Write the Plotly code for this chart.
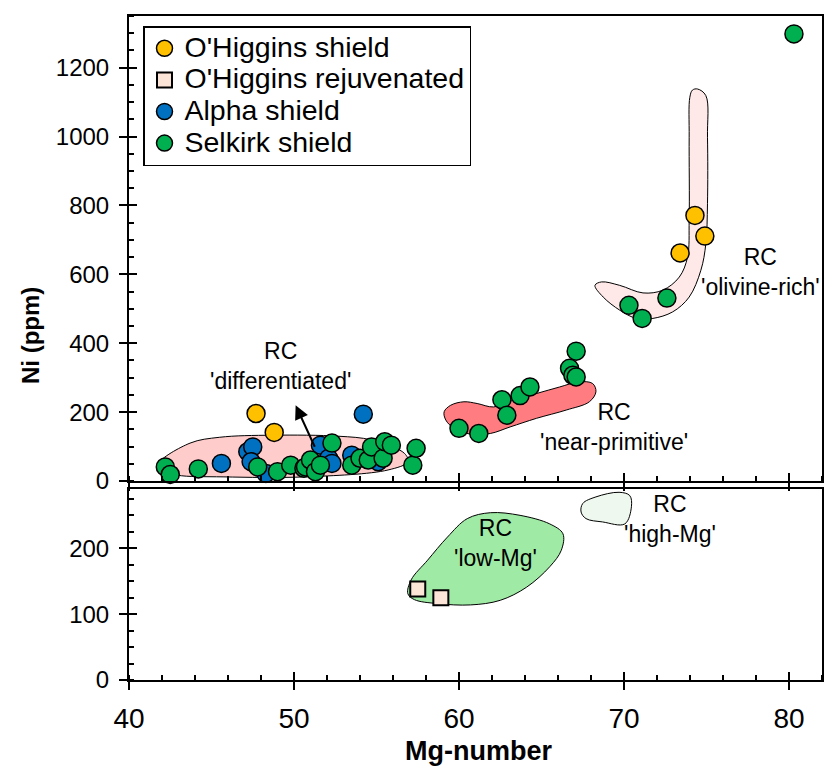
import plotly.graph_objects as go

# ---------------- data ----------------
ohs_x = [47.7, 48.8, 73.4, 74.3, 74.9]
ohs_y = [196, 141, 662, 771, 711]

ohr_x = [57.5, 58.9]
ohr_y = [138, 125]

alpha_x = [45.6, 47.2, 47.5, 47.4, 48.3, 51.6, 52.1, 52.3, 53.5, 55.1, 54.2]
alpha_y = [51, 85, 99, 56, 22, 104, 66, 51, 75, 56, 194]

selkirk_x = [42.2, 42.5, 44.2, 47.8, 49.0, 49.8, 50.6, 50.7, 51.0, 51.3, 51.6, 52.3,
             53.5, 54.0, 54.5, 54.7, 55.4, 55.5, 55.9, 57.2, 57.4,
             60.0, 61.2, 62.6, 62.9, 63.7, 64.3, 66.7, 66.9, 67.1, 67.1,
             70.3, 71.1, 72.6, 80.3]
selkirk_y = [41, 19, 35, 41, 27, 46, 37, 41, 61, 27, 46, 110,
             46, 66, 61, 99, 66, 114, 104, 46, 95,
             153, 138, 236, 191, 248, 273, 327, 307, 302, 377,
             510, 472, 531, 1298]

series_names = ["O'Higgins shield", "O'Higgins rejuvenated", "Alpha shield", "Selkirk shield"]

# field outlines (Mg-number, Ni ppm)
diff_x = [41.8, 43.7, 45.5, 48.7, 52.7, 54.7, 56.7, 56.9, 55.7, 50.7, 45.7, 42.9, 41.9]
diff_y = [51, 110, 127, 133, 130, 119, 80, 56, 32, 12, 12, 17, 32]

nearp_x = [59.1, 59.5, 60.3, 61.1, 62.1, 63.3, 64.7, 66.1, 67.3, 68.1, 68.3, 67.9,
           66.5, 64.7, 63.1, 61.9, 60.7, 59.7, 59.2]
nearp_y = [201, 220, 230, 225, 215, 235, 254, 273, 288, 283, 259, 230,
           206, 182, 157, 138, 136, 153, 177]

oliv_x = [74.46, 74.96, 75.06, 75.06, 74.96, 74.66, 73.95, 72.95, 71.75, 70.75, 69.74,
          68.74, 68.24, 68.64, 69.74, 71.15, 72.35, 73.35, 73.85, 73.95, 73.95, 73.99, 74.15]
oliv_y = [1138, 1119, 998, 805, 689, 612, 534, 491, 472, 472, 496,
          534, 568, 578, 568, 546, 554, 592, 650, 757, 998, 1114, 1135]

lowmg_x = [56.9, 57.1, 58.1, 59.3, 60.5, 61.9, 63.7, 65.5, 66.3, 66.2, 65.5, 64.1,
           62.5, 60.7, 58.7, 57.3]
lowmg_y = [131, 152, 182, 217, 245, 254, 250, 237, 222, 197, 172, 141,
           121, 114, 116, 122]

highmg_x = [67.5, 68.3, 69.7, 70.35, 70.45, 70.05, 68.7, 67.7, 67.4]
highmg_y = [268, 278, 285, 280, 263, 237, 240, 245, 255]

x_range = [40, 82]
top_range = [0, 1350]
bot_range = [0, 290]

FONT = "Liberation Sans, Arial, sans-serif"

fig = go.Figure()

def region(xs, ys, color, xa, ya):
    fig.add_trace(go.Scatter(
        x=xs + xs[:1], y=ys + ys[:1], mode="lines", fill="toself",
        fillcolor=color, line=dict(color="black", width=1, shape="spline", smoothing=1),
        xaxis=xa, yaxis=ya, showlegend=False, hoverinfo="skip"))

region(diff_x, diff_y, "#FFCCCC", "x2", "y2")
region(nearp_x, nearp_y, "#FF7C80", "x2", "y2")
region(oliv_x, oliv_y, "#FFE8E8", "x2", "y2")
region(lowmg_x, lowmg_y, "#9FEBA5", "x", "y")
region(highmg_x, highmg_y, "#EEF8EE", "x", "y")

def lname(s):
    return '<span style="font-size:28.5px">' + s + '</span>'

mline = dict(color="black", width=1.5)
fig.add_trace(go.Scatter(x=ohs_x, y=ohs_y, mode="markers", name=lname(series_names[0]),
                         marker=dict(symbol="circle", size=18, color="#FFC000", line=mline),
                         xaxis="x2", yaxis="y2", cliponaxis=False))
fig.add_trace(go.Scatter(x=ohr_x, y=ohr_y, mode="markers", name=lname(series_names[1]),
                         marker=dict(symbol="square", size=15, color="#FCE4D6", line=dict(color="black", width=2)),
                         xaxis="x", yaxis="y", cliponaxis=False))
fig.add_trace(go.Scatter(x=alpha_x, y=alpha_y, mode="markers", name=lname(series_names[2]),
                         marker=dict(symbol="circle", size=18, color="#0070C0", line=mline),
                         xaxis="x2", yaxis="y2", cliponaxis=False))
fig.add_trace(go.Scatter(x=selkirk_x, y=selkirk_y, mode="markers", name=lname(series_names[3]),
                         marker=dict(symbol="circle", size=18, color="#00B050", line=mline),
                         xaxis="x2", yaxis="y2", cliponaxis=False))

# dummy traces for overlay tick axes (inside half of crossing ticks)
fig.add_trace(go.Scatter(x=[None], y=[None], xaxis="x3", yaxis="y3", showlegend=False, hoverinfo="skip"))
fig.add_trace(go.Scatter(x=[None], y=[None], xaxis="x4", yaxis="y4", showlegend=False, hoverinfo="skip"))

H, T, B = 772, 16, 92
ph = H - T - B
bot_top = (680 - 489) / ph
top_bot = (680 - 481) / ph

common = dict(showline=True, linecolor="black", linewidth=2, mirror=True, showgrid=False,
              zeroline=False, ticks="outside", ticklen=8, tickwidth=1.5, tickcolor="black",
              automargin=False)
minor_in = lambda d: dict(dtick=d, ticks="inside", ticklen=5, tickwidth=1.5, tickcolor="black", showgrid=False)
inner = dict(ticks="inside", ticklen=8, tickwidth=1.5, tickcolor="black", showticklabels=False,
             showline=False, showgrid=False, zeroline=False, tick0=0)

fig.update_layout(
    width=828, height=772,
    margin=dict(l=129, r=6, t=T, b=B),
    paper_bgcolor="white", plot_bgcolor="white",
    font=dict(family=FONT, color="black"),
    showlegend=True,
    xaxis=dict(domain=[0, 1], anchor="y", range=x_range, dtick=10, tick0=0,
               minor=minor_in(2), tickfont=dict(size=28, family=FONT), ticklabelstandoff=4, **common),
    yaxis=dict(domain=[0, bot_top], anchor="x", range=bot_range, dtick=100, tick0=0,
               minor=minor_in(25), tickfont=dict(size=24, family=FONT), ticklabelstandoff=5, **common),
    xaxis2=dict(domain=[0, 1], anchor="y2", range=x_range, dtick=10, tick0=0,
                minor=minor_in(2), showticklabels=False, **common),
    yaxis2=dict(domain=[top_bot, 1], anchor="x2", range=top_range, dtick=200, tick0=0,
                minor=minor_in(50), tickfont=dict(size=24, family=FONT), ticklabelstandoff=5, **common),
    xaxis3=dict(overlaying="x", anchor="y3", range=x_range, dtick=10, **inner),
    yaxis3=dict(overlaying="y", anchor="x3", range=bot_range, dtick=100, **inner),
    xaxis4=dict(overlaying="x2", anchor="y4", range=x_range, dtick=10, **inner),
    yaxis4=dict(overlaying="y2", anchor="x4", range=top_range, dtick=200, **inner),
    legend=dict(x=(143 - 129) / 693, y=(680 - 26) / ph, xanchor="left", yanchor="top",
                bgcolor="white", bordercolor="black", borderwidth=1.5,
                font=dict(size=22, family=FONT, color="black"), tracegroupgap=0,
                itemsizing="trace"),
    hovermode=False,
)

ann_font = dict(size=23, family=FONT, color="black")
anns = [
    dict(x=49.2, y=333, xref="x2", yref="y2", text="RC<br>'differentiated'"),
    dict(x=69.4, y=157, xref="x2", yref="y2", text="RC<br>'near-primitive'"),
    dict(x=78.3, y=606, xref="x2", yref="y2", text="RC<br>'olivine-rich'"),
    dict(x=62.2, y=208, xref="x", yref="y", text="RC<br>'low-Mg'"),
    dict(x=72.8, y=244, xref="x", yref="y", text="RC<br>'high-Mg'"),
]
for a in anns:
    fig.add_annotation(showarrow=False, font=ann_font, align="center",
                       xanchor="center", yanchor="middle", **a)

fig.add_annotation(x=50.1, y=220, xref="x2", yref="y2", ax=51.3, ay=95, axref="x2", ayref="y2",
                   text="", showarrow=True, arrowhead=2, arrowsize=1.4, arrowwidth=2, arrowcolor="black")

fig.add_annotation(x=(30 - 129) / 693, y=(680 - 336) / ph, xref="paper", yref="paper",
                   text="<b>Ni (ppm)</b>", textangle=-90, showarrow=False,
                   xanchor="center", yanchor="middle",
                   font=dict(size=24, family=FONT, color="black"))
fig.add_annotation(x=(478 - 129) / 693, y=-(751 - 680) / ph, xref="paper", yref="paper",
                   text="<b>Mg-number</b>", showarrow=False, xanchor="center", yanchor="middle",
                   font=dict(size=27, family=FONT, color="black"))

fig.write_html("out.html")
